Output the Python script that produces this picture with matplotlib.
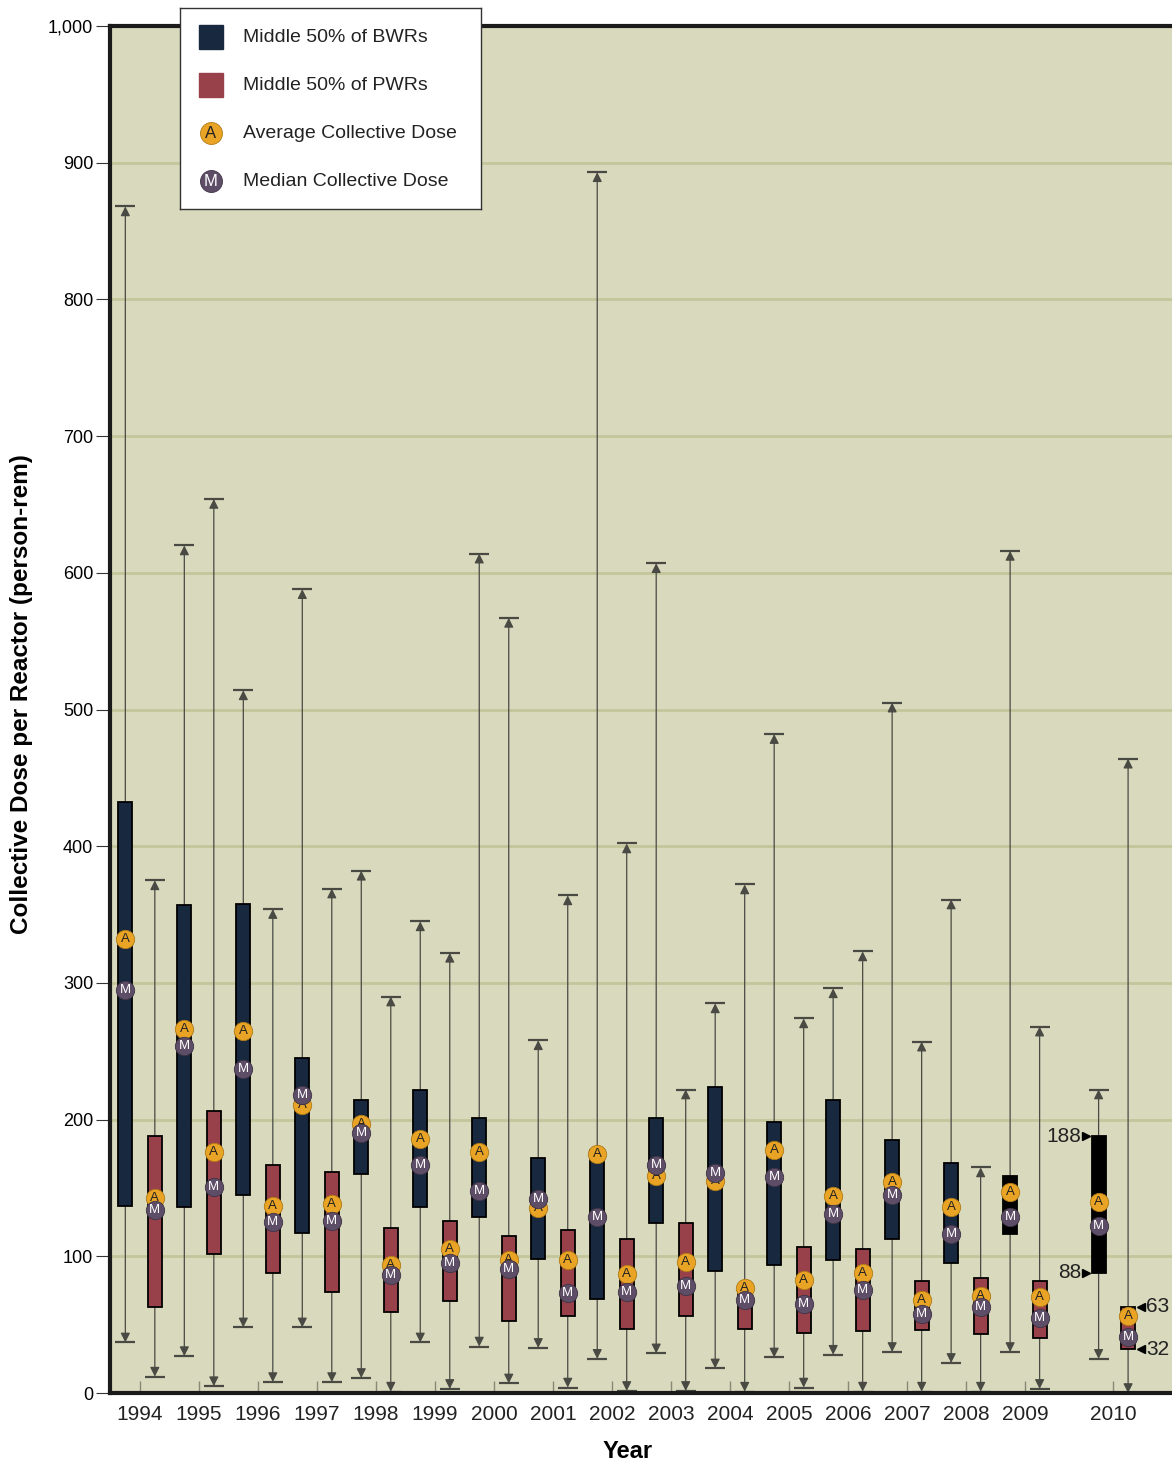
import numpy as np
import matplotlib
matplotlib.use("Agg")
import matplotlib.pyplot as plt
from matplotlib.patches import Rectangle

# === Données (person-rem) ===
years = ["1994", "1995", "1996", "1997", "1998", "1999", "2000", "2001",
         "2002", "2003", "2004", "2005", "2006", "2007", "2008", "2009", "2010"]
year_pos = [0, 1, 2, 3, 4, 5, 6, 7, 8, 9, 10, 11, 12, 13, 14, 15, 16.5]

bwr_max = [868, 620, 514, 588, 382, 345, 614, 258, 893, 607, 285, 482, 296, 505, 361, 616, 222]
bwr_q3 = [432, 357, 358, 245, 214, 222, 201, 172, 178, 201, 224, 198, 214, 185, 168, 159, 188]
bwr_q1 = [137, 136, 145, 117, 160, 136, 129, 98, 69, 124, 89, 94, 97, 113, 95, 116, 88]
bwr_min = [37, 27, 48, 48, 11, 37, 34, 33, 25, 29, 18, 26, 28, 30, 22, 30, 25]
bwr_avg = [332, 266, 265, 211, 197, 186, 176, 135, 175, 159, 155, 178, 144, 154, 136, 147, 140]
bwr_med = [295, 254, 237, 218, 190, 167, 148, 142, 129, 167, 161, 158, 131, 145, 116, 129, 122]

pwr_max = [375, 654, 354, 369, 290, 322, 567, 364, 402, 222, 372, 274, 323, 257, 165, 268, 464]
pwr_q3 = [188, 206, 167, 162, 121, 126, 115, 119, 113, 124, 75, 107, 105, 82, 84, 82, 63]
pwr_q1 = [63, 102, 88, 74, 59, 67, 53, 56, 47, 56, 47, 44, 45, 46, 43, 40, 32]
pwr_min = [12, 5, 8, 8, 1, 3, 7, 4, 1.5, 1.5, 1, 4, 1, 1, 1, 3, 0]
pwr_avg = [143, 176, 137, 138, 94, 105, 97, 97, 87, 96, 77, 83, 88, 68, 71, 70, 56]
pwr_med = [134, 151, 125, 126, 86, 95, 91, 73, 74, 78, 68, 65, 75, 58, 63, 55, 41]

# === Styles ===
C_BG = "#d8d9bd"
C_GRID = "#c3c69a"
C_BWR = "#18283f"
C_PWR = "#99414a"
C_AVG = "#e9a426"
C_MED = "#5e4d66"
C_WHISK = "#4a4a44"
box_w = 0.24
cap_w = 0.34
off = 0.25

fig = plt.figure(figsize=(11.72, 14.66), dpi=100)
ax = fig.add_axes([110 / 1172, 1 - 1393 / 1466, (1180 - 110) / 1172, (1393 - 26) / 1466])
ax.set_facecolor(C_BG)
ax.set_xlim(-0.51, 17.63)
ax.set_ylim(0, 1000)

for yv in range(100, 1000, 100):
    ax.axhline(yv, color=C_GRID, lw=2.0, zorder=0)


def draw_box(x, lo, q1, q3, hi, avg, med, color):
    ax.annotate("", xy=(x, hi), xytext=(x, lo),
                arrowprops=dict(arrowstyle="<|-|>", color=C_WHISK, lw=0.9,
                                shrinkA=0, shrinkB=0, mutation_scale=14),
                zorder=1)
    ax.hlines([hi, lo], x - cap_w / 2, x + cap_w / 2, color=C_WHISK, lw=1.6, zorder=1)
    ax.bar(x, q3 - q1, bottom=q1, width=box_w, color=color, edgecolor="black",
           lw=1.3, zorder=3)
    # la médiane est dessinée par-dessus la moyenne
    ax.scatter([x], [avg], s=175, color=C_AVG, edgecolor="#b07a16", lw=0.6, zorder=4)
    ax.text(x, avg, "A", ha="center", va="center", fontsize=9.5, color="#222222",
            family="Liberation Sans", zorder=5)
    ax.scatter([x], [med], s=175, color=C_MED, edgecolor="#3e3346", lw=0.6, zorder=6)
    ax.text(x, med, "M", ha="center", va="center", fontsize=9.5, color="white",
            family="Liberation Sans", zorder=7)


for i, p in enumerate(year_pos):
    bcol = "black" if i >= 15 else C_BWR
    draw_box(p - off, bwr_min[i], bwr_q1[i], bwr_q3[i], bwr_max[i], bwr_avg[i], bwr_med[i], bcol)
    draw_box(p + off, pwr_min[i], pwr_q1[i], pwr_q3[i], pwr_max[i], pwr_avg[i], pwr_med[i], C_PWR)

# === Étiquettes 2010 ===
xb = year_pos[-1] - off
xp = year_pos[-1] + off
for v in [bwr_q3[-1], bwr_q1[-1]]:
    ax.plot(xb - box_w / 2 - 0.09, v, marker=">", color="black", ms=6, zorder=5)
    ax.text(xb - box_w / 2 - 0.17, v, f"{v}", ha="right", va="center", fontsize=15,
            color="#222222", family="Liberation Sans")
for v in [pwr_q3[-1], pwr_q1[-1]]:
    ax.plot(xp + box_w / 2 + 0.1, v, marker="<", color="black", ms=6, zorder=5)
    ax.text(xp + box_w / 2 + 0.18, v, f"{v}", ha="left", va="center", fontsize=15,
            color="#222222", family="Liberation Sans")

# === Axes ===
for s in ["left", "top", "bottom"]:
    ax.spines[s].set_linewidth(3)
    ax.spines[s].set_color("#1a1a1a")
ax.spines["right"].set_visible(False)
ax.set_yticks(range(0, 1001, 100))
ax.set_yticklabels([f"{v:,}" for v in range(0, 1001, 100)], fontsize=13,
                   family="Liberation Sans")
ax.tick_params(axis="y", direction="out", length=10, width=0.8, pad=2, color="#333333")
ax.set_xticks(year_pos)
ax.set_xticklabels(years, fontsize=15, family="Liberation Sans", color="#222222")
ax.tick_params(axis="x", direction="in", length=9, width=1.0, pad=9, color="#888877")
ax.set_ylabel("Collective Dose per Reactor (person-rem)", fontsize=17.5, fontweight="bold",
              family="Liberation Sans")
ax.yaxis.set_label_coords(-0.072, 0.511)
fig.text(628 / 1172, 1 - 1452 / 1466, "Year", ha="center", va="center", fontsize=17,
         fontweight="bold", family="Liberation Sans")

# === Légende ===
lg = fig.add_axes([180 / 1172, 1 - 209 / 1466, 301 / 1172, 201 / 1466])
lg.set_xlim(0, 301)
lg.set_ylim(201, 0)
lg.set_facecolor("white")
for s in lg.spines.values():
    s.set_linewidth(1.0)
    s.set_color("#333333")
lg.set_xticks([])
lg.set_yticks([])
lg.add_patch(Rectangle((19, 17), 24, 24, color=C_BWR))
lg.add_patch(Rectangle((19, 65), 24, 24, color=C_PWR))
lg.scatter([31], [125], s=250, color=C_AVG, edgecolor="#b07a16", lw=0.6)
lg.text(31, 125, "A", ha="center", va="center", fontsize=12, color="#222222", family="Liberation Sans")
lg.scatter([31], [173], s=250, color=C_MED, edgecolor="#3e3346", lw=0.6)
lg.text(31, 173, "M", ha="center", va="center", fontsize=12, color="white", family="Liberation Sans")
labels = ["Middle 50% of BWRs", "Middle 50% of PWRs", "Average Collective Dose", "Median Collective Dose"]
for k, lab in enumerate(labels):
    lg.text(63, 30 + 48 * k, lab, ha="left", va="center", fontsize=14, color="#222222",
            family="Liberation Sans")

fig.savefig("out.png", dpi=100)
